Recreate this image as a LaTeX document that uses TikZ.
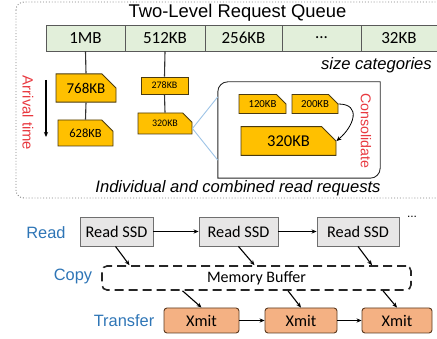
\documentclass[tikz,border=0pt]{standalone}
\usepackage{fontspec}
\setmainfont{Liberation Sans}
\newfontfamily\carlito{Carlito}
\usetikzlibrary{positioning,arrows.meta,shapes.misc}
\definecolor{catfill}{HTML}{E2EFDA}
\definecolor{catline}{HTML}{595959}
\definecolor{reqfill}{HTML}{FFC000}
\definecolor{reqline}{HTML}{4A3A10}
\definecolor{ssdfill}{HTML}{E7E6E6}
\definecolor{ssdline}{HTML}{6F6F6F}
\definecolor{xmitfill}{HTML}{F4B183}
\definecolor{xmitline}{HTML}{5C3A20}
\definecolor{fanblue}{HTML}{9DC3E6}
\definecolor{stageblue}{HTML}{2E75B6}
\definecolor{tagred}{HTML}{E8383F}
\definecolor{frame}{HTML}{7F7F7F}

\begin{document}
\begin{tikzpicture}[
  x=1pt, y=1pt,
  >={Stealth[length=5pt,width=4.2pt]},
  cat/.style={draw=catline, fill=catfill, line width=0.9pt,
              minimum height=26pt, inner sep=0pt,
              font=\carlito\fontsize{17}{19}\selectfont},
  req/.style={chamfered rectangle, chamfered rectangle corners=north east,
              draw=reqline, fill=reqfill, line width=0.9pt, inner sep=0pt},
  flat/.style={draw=reqline, fill=reqfill, line width=0.9pt, inner sep=0pt},
  ssd/.style={draw=ssdline, fill=ssdfill, line width=0.9pt,
              minimum height=29pt, inner sep=0pt,
              font=\carlito\fontsize{16.3}{18}\selectfont},
  xmit/.style={draw=xmitline, fill=xmitfill, line width=0.9pt,
               rounded corners=3pt, minimum height=25pt, inner sep=0pt,
               font=\carlito\fontsize{16.3}{18}\selectfont},
  buf/.style={draw=black!85, line width=1.6pt, dash pattern=on 9pt off 5pt,
              rounded corners=5pt, inner sep=0pt,
              font=\carlito\fontsize{16}{18}\selectfont},
  stem/.style={line width=1.1pt, draw=black!80},
  flow/.style={->, line width=1.1pt, draw=black},
  fan/.style={line width=0.9pt, draw=fanblue},
  stage/.style={text=stageblue, inner sep=0pt,
                font=\fontsize{16.4}{18}\selectfont},
  tag/.style={text=tagred, rotate=-90, inner sep=0pt},
  caption/.style={inner sep=0pt, font=\itshape\fontsize{16.6}{18}\selectfont},
]
\useasboundingbox (0,0) rectangle (437,-339);

% two-level queue
\draw[frame, dotted, line width=0.9pt, rounded corners=8pt]
  (16,-2) rectangle (445,-198);
\node[inner sep=0pt, font=\fontsize{18.4}{20}\selectfont] (title)
  at (237.5,-13) {Two-Level Request Queue};

\node[cat, minimum width=79pt] (c1) at (85.5,-38) {1MB};
\node[cat, minimum width=80pt] (c2) at (165,-38) {512KB};
\node[cat, minimum width=77pt] (c3) at (243.5,-38) {256KB};
\node[cat, minimum width=79pt] (c4) at (321.5,-38) {...};
\node[cat, minimum width=76pt] (c5) at (399,-38) {32KB};
\node[caption, anchor=east] (sizes) at (432,-65) {size categories};

\node[req, minimum width=60pt, minimum height=28pt,
      chamfered rectangle xsep=9pt, chamfered rectangle ysep=9pt,
      font=\carlito\fontsize{15}{17}\selectfont] (q768) at (86,-88) {768KB};
\node[req, minimum width=55pt, minimum height=26pt,
      chamfered rectangle xsep=7pt, chamfered rectangle ysep=7pt,
      font=\carlito\fontsize{12.5}{14}\selectfont] (q628) at (85.5,-133) {628KB};
\node[flat, minimum width=47pt, minimum height=17pt,
      font=\carlito\fontsize{10}{12}\selectfont] (q278) at (164.5,-85.5) {278KB};
\node[req, minimum width=54pt, minimum height=21pt,
      chamfered rectangle xsep=6pt, chamfered rectangle ysep=6pt,
      font=\carlito\fontsize{10}{12}\selectfont] (q320s) at (165,-123.5) {320KB};

\draw[stem] (c1.south) -- (q768.north);
\draw[stem] (q768.south) -- (q628.north);
\draw[stem] (c2.south) -- (q278.north);
\draw[stem] (q278.south) -- (q320s.north);

\coordinate (arrtop) at (46,-80);
\coordinate (arrbot) at (46,-137);
\draw[flow] (arrtop) -- (arrbot);
\node[tag, font=\fontsize{14.8}{16}\selectfont] (arrival) at (28,-113) {Arrival time};

% consolidation of small requests
\node[minimum width=162pt, minimum height=96pt, inner sep=0pt] (cons) at (299,-130) {};
\draw[black!85, line width=0.9pt]
  ([xshift=10pt]cons.north west) -- (cons.north east)
  -- ([yshift=10pt]cons.south east) arc[start angle=0, end angle=-90, radius=10pt]
  -- (cons.south west) -- ([yshift=-10pt]cons.north west)
  arc[start angle=180, end angle=90, radius=10pt] -- cycle;
\draw[fan] ([yshift=-5pt]q320s.east) -- ([yshift=-15pt]cons.north west);
\draw[fan] ([yshift=-5pt]q320s.east) -- ([yshift=18pt]cons.south west);

\node[req, minimum width=47pt, minimum height=18pt,
      chamfered rectangle xsep=6pt, chamfered rectangle ysep=6pt,
      font=\carlito\fontsize{10.8}{12}\selectfont] (q120) at (262.5,-104) {120KB};
\node[req, minimum width=46pt, minimum height=18pt,
      chamfered rectangle xsep=6pt, chamfered rectangle ysep=6pt,
      font=\carlito\fontsize{10.8}{12}\selectfont] (q200) at (315,-104) {200KB};
\node[req, minimum width=95pt, minimum height=26pt,
      chamfered rectangle xsep=9pt, chamfered rectangle ysep=9pt,
      font=\carlito\fontsize{16.5}{18}\selectfont] (q320b) at (288.5,-141) {320KB};
\draw[->, line width=0.8pt] (q200.east) to[out=0, in=40, looseness=1.6] (q320b.east);
\node[tag, font=\fontsize{14.2}{16}\selectfont] (consol) at (366,-131) {Consolidate};

\node[caption] (reqs) at (238,-188) {Individual and combined read requests};

% pipeline
\node[ssd, minimum width=73pt] (r1) at (116.5,-231.5) {Read SSD};
\node[ssd, minimum width=79pt] (r2) at (238.5,-231.5) {Read SSD};
\node[ssd, minimum width=82pt] (r3) at (358,-231.5) {Read SSD};
\node[inner sep=0pt, font=\fontsize{12}{14}\selectfont] (more) at (412,-217) {...};

\node[buf, minimum width=309pt, minimum height=24pt] (mem) at (256.5,-278) {Memory Buffer};

\node[xmit, minimum width=75pt] (x1) at (201.5,-320.5) {Xmit};
\node[xmit, minimum width=72pt] (x2) at (301,-320.5) {Xmit};
\node[xmit, minimum width=70pt] (x3) at (397,-320.5) {Xmit};

\node[stage] (lread) at (46,-233) {Read};
\node[stage] (lcopy) at (73,-276) {Copy};
\node[stage] (lxfer) at (124,-321) {Transfer};

\draw[flow] (r1) -- (r2);
\draw[flow] (r2) -- (r3);
\draw[flow] ([xshift=-1pt]r1.south) -- ([xshift=13pt]r1.south |- mem.north);
\draw[flow] (r2.south) -- ([xshift=16pt]r2.south |- mem.north);
\draw[flow] (r3.south) -- ([xshift=14pt]r3.south |- mem.north);
\draw[flow] ([xshift=-19pt]x1.north |- mem.south) -- (x1.north);
\draw[flow] ([xshift=-13pt]x2.north |- mem.south) -- (x2.north);
\draw[flow] ([xshift=-14pt]x3.north |- mem.south) -- (x3.north);
\draw[flow] (x1) -- (x2);
\draw[flow] (x2) -- (x3);
\end{tikzpicture}
\end{document}
